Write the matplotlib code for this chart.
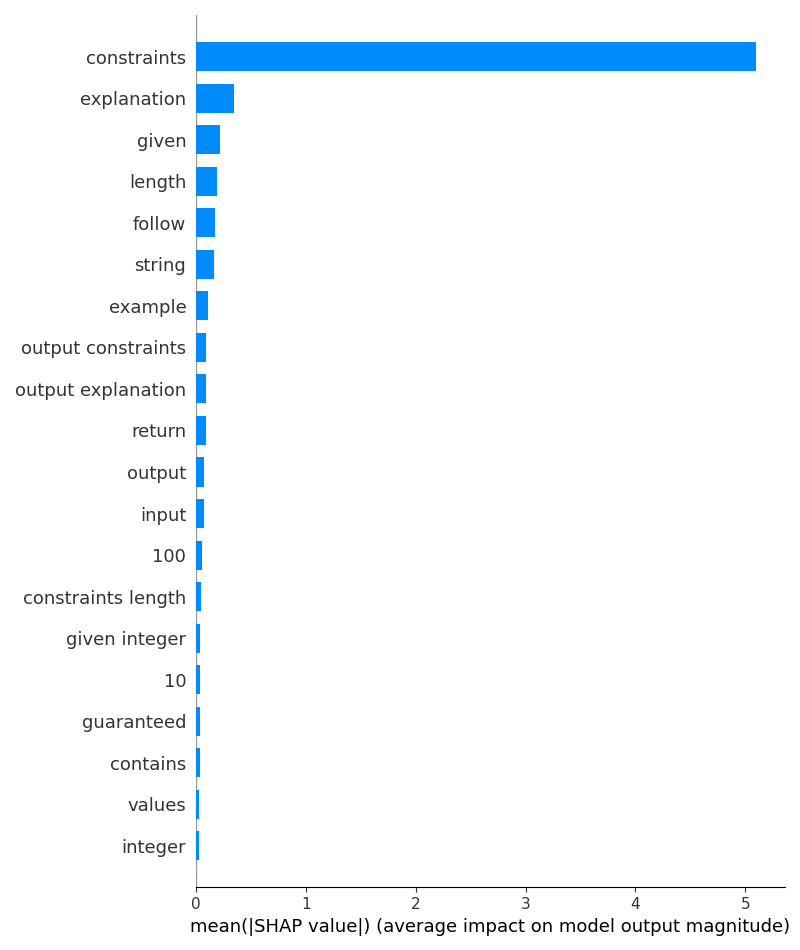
import matplotlib
matplotlib.use('Agg')
import matplotlib.pyplot as plt

features = ['constraints', 'explanation', 'given', 'length', 'follow', 'string', 'example',
            'output constraints', 'output explanation', 'return', 'output', 'input', '100',
            'constraints length', 'given integer', '10', 'guaranteed', 'contains', 'values', 'integer']
values = [5.095, 0.343, 0.215, 0.188, 0.170, 0.161, 0.106,
          0.089, 0.088, 0.087, 0.071, 0.070, 0.052,
          0.043, 0.036, 0.035, 0.034, 0.033, 0.026, 0.025]

axis_color = '#333333'

fig = plt.figure(figsize=(8, 9.5), dpi=100)
ax = fig.add_axes([0.245, 0.066, 0.736, 0.918])

ypos = list(range(len(features)))
ax.barh(ypos, values, height=0.7, color='#008bfb', align='center', zorder=2)
ax.axvline(0, color='#999999', linewidth=1, zorder=1)

ax.set_yticks(ypos)
ax.set_yticklabels(features, fontsize=13)
ax.set_ylim(len(features), -1)
ax.set_xlim(0, 5.36)

ax.spines['right'].set_visible(False)
ax.spines['top'].set_visible(False)
ax.spines['left'].set_visible(False)
ax.tick_params(color=axis_color, labelcolor=axis_color)
ax.tick_params('y', length=0, pad=7)
ax.tick_params('x', labelsize=11)
ax.set_xlabel('mean(|SHAP value|) (average impact on model output magnitude)', fontsize=13)

fig.savefig('out.png', dpi=100)
